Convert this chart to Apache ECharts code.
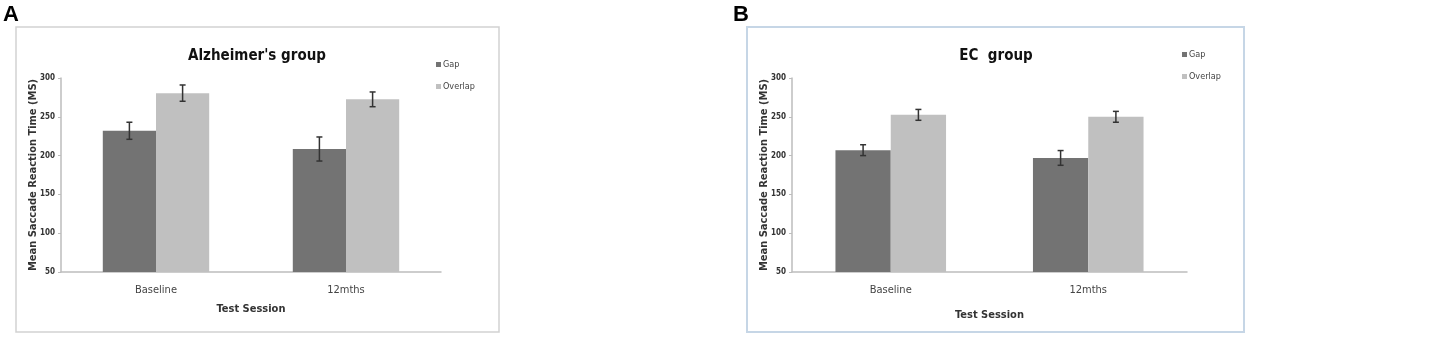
<!DOCTYPE html>
<html>
<head>
<meta charset="utf-8">
<script src="https://cdn.jsdelivr.net/npm/echarts@6/dist/echarts.min.js"></script>
<style>
html,body{margin:0;padding:0;background:#fff;}
#main{width:1446px;height:337px;}
</style>
</head>
<body>
<div id="main"></div>
<script>
// data
var categories = ['Baseline', '12mths'];
var adGap = [232, 208.5];
var adGapErr = [11, 15.5];
var adOverlap = [280.5, 272.5];
var adOverlapErr = [10.5, 9.5];
var ecGap = [207, 197];
var ecGapErr = [7, 9.5];
var ecOverlap = [252.5, 250];
var ecOverlapErr = [7, 7];
var yTicks = [50, 100, 150, 200, 250, 300];

var font = "'Liberation Sans Narrow', 'DejaVu Sans Condensed', 'Liberation Sans', sans-serif";
var gapColor = '#737373', overlapColor = '#c0c0c0';

var mychart = echarts.init(document.getElementById('main'));

// error bars drawn at the bar centres, offset by half a bar inside the band
function errSeries(name, vals, errs, gridIdx, side) {
	var data = vals.map(function (v, i) { return [i, v, errs[i]]; });
	return {
		type: 'custom',
		name: name + ' err',
		xAxisIndex: gridIdx,
		yAxisIndex: gridIdx,
		z: 5,
		silent: true,
		data: data,
		renderItem: function (params, api) {
			var band = api.size([1, 0])[0];
			var off = side * band * 0.14;
			var hi = api.coord([api.value(0), api.value(1) + api.value(2)]);
			var lo = api.coord([api.value(0), api.value(1) - api.value(2)]);
			var x = hi[0] + off, cap = 3;
			var st = { stroke: '#333', lineWidth: 1.5 };
			return {
				type: 'group',
				children: [
					{ type: 'line', shape: { x1: x, y1: hi[1], x2: x, y2: lo[1] }, style: st },
					{ type: 'line', shape: { x1: x - cap, y1: hi[1], x2: x + cap, y2: hi[1] }, style: st },
					{ type: 'line', shape: { x1: x - cap, y1: lo[1], x2: x + cap, y2: lo[1] }, style: st }
				]
			};
		}
	};
}

function xAx(gridIdx, nameGap) {
	return {
		gridIndex: gridIdx,
		type: 'category',
		data: categories,
		name: 'Test Session',
		nameLocation: 'middle',
		nameGap: nameGap,
		nameTextStyle: { fontFamily: font, fontSize: 11, fontWeight: 'bold', color: '#333' },
		axisLine: { lineStyle: { color: '#bdbdbd', width: 1.5 } },
		axisTick: { show: false },
		axisLabel: { fontFamily: font, fontSize: 11, color: '#444', margin: 13 }
	};
}

function yAx(gridIdx) {
	return {
		gridIndex: gridIdx,
		type: 'value',
		min: yTicks[0],
		max: yTicks[yTicks.length - 1],
		interval: 50,
		name: 'Mean Saccade Reaction Time (MS)',
		nameLocation: 'middle',
		nameGap: 22,
		nameMoveOverlap: false,
		nameTextStyle: { fontFamily: font, fontSize: 11, fontWeight: 'bold', color: '#333' },
		axisLine: { show: true, lineStyle: { color: '#bdbdbd', width: 1.5 } },
		axisTick: { show: true, length: 3, lineStyle: { color: '#bdbdbd' } },
		splitLine: { show: false },
		axisLabel: { fontFamily: font, fontSize: 8, fontWeight: 'bold', color: '#333', margin: 6 }
	};
}

function legendAt(left, top) {
	return {
		left: left,
		top: top,
		orient: 'vertical',
		itemWidth: 5,
		itemHeight: 5,
		itemGap: 13,
		icon: 'rect',
		data: ['Gap', 'Overlap'],
		textStyle: { fontFamily: font, fontSize: 9, color: '#444', padding: [0, 0, 0, -3] }
	};
}

var option = {
	animation: false,
	textStyle: { fontFamily: font },
	title: [
		{ text: "Alzheimer's group", left: 252, top: 44, textAlign: 'center',
			textStyle: { fontFamily: font, fontSize: 15, fontWeight: 'bold', color: '#111' } },
		{ text: 'EC  group', left: 991, top: 44, textAlign: 'center',
			textStyle: { fontFamily: font, fontSize: 15, fontWeight: 'bold', color: '#111' } }
	],
	legend: [legendAt(431, 55), legendAt(1177, 45)],
	grid: [
		{ left: 61, top: 78, width: 380, height: 194 },
		{ left: 792, top: 78, width: 395, height: 194 }
	],
	xAxis: [xAx(0, 32), xAx(1, 38)],
	yAxis: [yAx(0), yAx(1)],
	graphic: [
		{ type: 'rect', shape: { x: 16, y: 27, width: 483, height: 305 }, silent: true,
			style: { fill: 'none', stroke: '#d2d2d2', lineWidth: 1.5 } },
		{ type: 'rect', shape: { x: 747, y: 27, width: 497, height: 305 }, silent: true,
			style: { fill: 'none', stroke: '#c6d6e6', lineWidth: 2 } },
		{ type: 'text', left: 3, top: 4, silent: true,
			style: { text: 'A', font: 'bold 22px "Liberation Sans", Arial, sans-serif', fill: '#000' } },
		{ type: 'text', left: 733, top: 4, silent: true,
			style: { text: 'B', font: 'bold 22px "Liberation Sans", Arial, sans-serif', fill: '#000' } }
	],
	series: [
		{ name: 'Gap', type: 'bar', xAxisIndex: 0, yAxisIndex: 0, data: adGap, barWidth: '28%', barGap: '0%',
			itemStyle: { color: gapColor } },
		{ name: 'Overlap', type: 'bar', xAxisIndex: 0, yAxisIndex: 0, data: adOverlap, barWidth: '28%', barGap: '0%',
			itemStyle: { color: overlapColor } },
		{ name: 'Gap', type: 'bar', xAxisIndex: 1, yAxisIndex: 1, data: ecGap, barWidth: '28%', barGap: '0%',
			itemStyle: { color: gapColor } },
		{ name: 'Overlap', type: 'bar', xAxisIndex: 1, yAxisIndex: 1, data: ecOverlap, barWidth: '28%', barGap: '0%',
			itemStyle: { color: overlapColor } },
		errSeries('Gap', adGap, adGapErr, 0, -1),
		errSeries('Overlap', adOverlap, adOverlapErr, 0, 1),
		errSeries('Gap', ecGap, ecGapErr, 1, -1),
		errSeries('Overlap', ecOverlap, ecOverlapErr, 1, 1)
	]
};
mychart.setOption(option);
</script>
</body>
</html>
